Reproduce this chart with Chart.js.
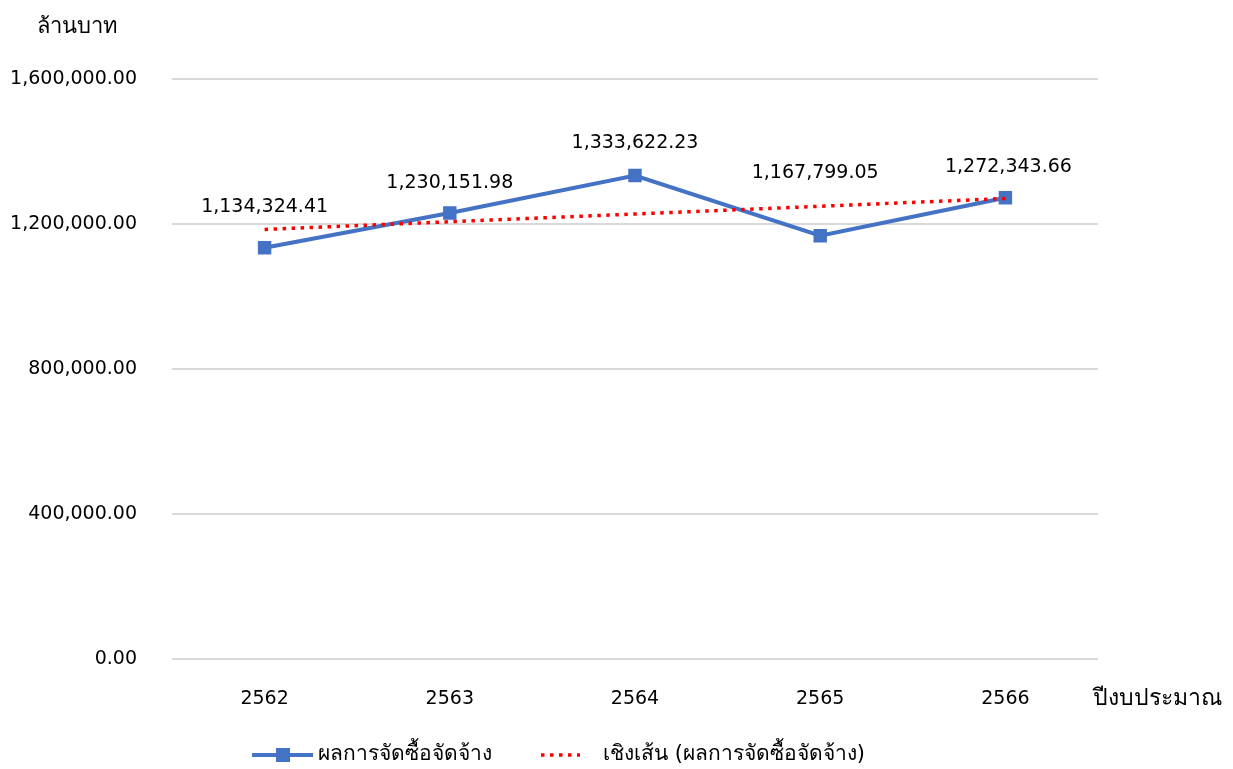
<!DOCTYPE html>
<html>
<head>
<meta charset="utf-8">
<script src="https://cdn.jsdelivr.net/npm/chart.js@4"></script>
<style>
  html, body { margin: 0; padding: 0; background: #fff; }
  #wrap { width: 1233px; height: 769px; position: relative; }
</style>
</head>
<body>
<div id="wrap"><canvas id="chart"></canvas></div>
<script>
// ข้อมูลกราฟ
const years = ['2562', '2563', '2564', '2565', '2566'];
const procurement = [1134324.41, 1230151.98, 1333622.23, 1167799.05, 1272343.66];
const trendValues = [1184900, 1206300, 1227600, 1249000, 1270400];
const yTicks = [0, 400000, 800000, 1200000, 1600000];
const seriesName = 'ผลการจัดซื้อจัดจ้าง';
const trendName = 'เชิงเส้น (ผลการจัดซื้อจัดจ้าง)';
const yTitle = 'ล้านบาท';
const xTitle = 'ปีงบประมาณ';

const FONT = "Tahoma, 'DejaVu Sans', 'Noto Sans', sans-serif";
const fmt = v => v.toLocaleString('en-US', { minimumFractionDigits: 2, maximumFractionDigits: 2 });

// ป้ายค่าบนจุด + ชื่อแกน + legend
const extras = {
  id: 'extras',
  afterDatasetsDraw(chart, args, opts) {
    const { ctx, scales: { x, y } } = chart;
    ctx.save();
    ctx.font = `19px ${FONT}`;
    ctx.fillStyle = '#000';
    ctx.textAlign = 'center';
    ctx.textBaseline = 'middle';
    procurement.forEach((v, i) => {
      const off = opts.labelOffsets[i];
      ctx.fillText(fmt(v), x.getPixelForValue(i) + off[0], y.getPixelForValue(v) + off[1]);
    });

    // ชื่อแกน
    ctx.font = `22px ${FONT}`;
    ctx.textAlign = 'left';
    ctx.fillText(yTitle, 37, 27);
    ctx.font = `23px ${FONT}`;
    ctx.fillText(xTitle, 1093, 699);

    // legend
    ctx.font = `21px ${FONT}`;
    const ly = 755;
    const d0 = chart.data.datasets[0], d1 = chart.data.datasets[1];
    ctx.strokeStyle = d0.borderColor;
    ctx.lineWidth = d0.borderWidth;
    ctx.beginPath(); ctx.moveTo(252, ly); ctx.lineTo(313, ly); ctx.stroke();
    ctx.fillStyle = d0.borderColor;
    ctx.fillRect(276, ly - 7, 14, 14);
    ctx.fillStyle = '#000';
    ctx.fillText(seriesName, 318, ly);

    ctx.strokeStyle = d1.borderColor;
    ctx.lineWidth = d1.borderWidth;
    ctx.setLineDash(d1.borderDash);
    ctx.beginPath(); ctx.moveTo(541, ly); ctx.lineTo(580, ly); ctx.stroke();
    ctx.setLineDash([]);
    ctx.fillText(trendName, 603, ly);
    ctx.restore();
  }
};

new Chart(document.getElementById('chart'), {
  type: 'line',
  data: {
    labels: years,
    datasets: [
      {
        label: seriesName,
        data: procurement,
        borderColor: '#4472C4',
        backgroundColor: '#4472C4',
        borderWidth: 4,
        pointStyle: 'rect',
        pointRadius: 9.5,
        pointHoverRadius: 9.5,
        pointBorderWidth: 0,
        tension: 0,
        order: 1
      },
      {
        label: trendName,
        data: trendValues,
        borderColor: '#FF0000',
        borderWidth: 3.5,
        borderDash: [3.5, 5.5],
        pointRadius: 0,
        tension: 0,
        order: 0
      }
    ]
  },
  options: {
    responsive: true,
    maintainAspectRatio: false,
    animation: false,
    layout: { padding: { top: 79, right: 135, bottom: 0, left: 0 } },
    plugins: {
      legend: { display: false },
      tooltip: { enabled: false },
      extras: {
        labelOffsets: [[0, -41], [0, -30], [0, -32], [-5, -63], [3, -31]]
      }
    },
    scales: {
      x: {
        offset: true,
        grid: { display: false },
        border: { display: false },
        ticks: { color: '#000', font: { family: FONT, size: 19 }, padding: 21 },
        afterFit: s => { s.height = 110; }
      },
      y: {
        min: 0,
        max: 1600000,
        afterBuildTicks: s => { s.ticks = yTicks.map(v => ({ value: v })); },
        grid: { color: '#D9D9D9', lineWidth: 2, drawTicks: false },
        border: { display: false },
        ticks: {
          color: '#000',
          font: { family: FONT, size: 19 },
          padding: 35,
          callback: v => fmt(v)
        },
        afterFit: s => { s.width = 172; }
      }
    }
  },
  plugins: [extras]
});
</script>
</body>
</html>
